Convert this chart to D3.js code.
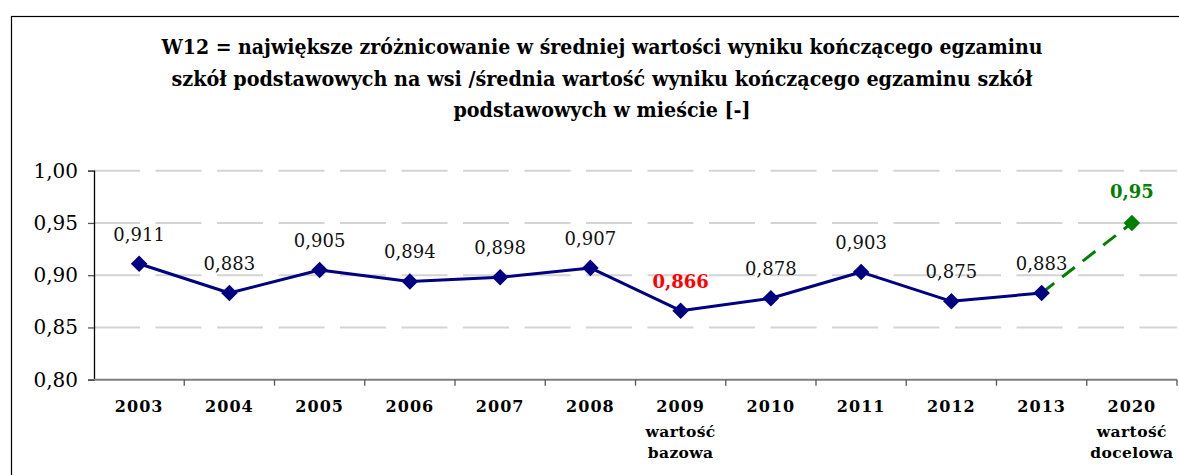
<!DOCTYPE html>
<html>
<head>
<meta charset="utf-8">
<script src="https://cdn.jsdelivr.net/npm/d3@7"></script>
<style>
  body { margin: 0; background: #fff; }
  svg { display: block; }
</style>
</head>
<body>
<svg width="1179" height="475"></svg>
<script>
// data
let years = ["2003", "2004", "2005", "2006", "2007", "2008", "2009", "2010", "2011", "2012", "2013", "2020"];
let subLabels = { "2009": ["wartość", "bazowa"], "2020": ["wartość", "docelowa"] };
let actualYears = ["2003", "2004", "2005", "2006", "2007", "2008", "2009", "2010", "2011", "2012", "2013"];
let actualValues = [0.911, 0.883, 0.905, 0.894, 0.898, 0.907, 0.866, 0.878, 0.903, 0.875, 0.883];
let targetYears = ["2013", "2020"];
let targetValues = [0.883, 0.95];
let yTicks = [0.80, 0.85, 0.90, 0.95, 1.00];
let titleLines = [
  "W12 = największe zróżnicowanie w średniej wartości wyniku kończącego egzaminu",
  "szkół podstawowych na wsi /średnia wartość wyniku kończącego egzaminu szkół",
  "podstawowych w mieście [-]"
];
let baseYear = "2009";

let svg = d3.select("svg"),
    width = +svg.attr("width"),
    height = +svg.attr("height");

let serif = "'DejaVu Serif', 'Liberation Serif', serif";
let fmt = function(d, n) { return d3.format("." + n + "f")(d).replace(".", ","); };

let plotLeft = 94, plotRight = 1177, plotTop = 170.7, plotBottom = 379.7;

let x = d3.scaleBand().domain(years).range([plotLeft, plotRight]);
let y = d3.scaleLinear().domain([0.8, 1.0]).range([plotBottom, plotTop]);
let cx = function(d) { return x(d) + x.bandwidth() / 2; };

// outer frame (only left and top edges are on screen)
svg.append("rect")
    .attr("x", 11.5).attr("y", 16.5)
    .attr("width", 1200).attr("height", 500)
    .attr("fill", "none").attr("stroke", "#000").attr("stroke-width", 1.2);

// title
let titleWidths = [881, 861, 297];
svg.append("g").selectAll("text")
    .data(titleLines)
    .enter().append("text")
    .attr("x", 602)
    .attr("y", function(d, i) { return 54 + i * 31.5; })
    .attr("text-anchor", "middle")
    .attr("textLength", function(d, i) { return titleWidths[i]; })
    .attr("lengthAdjust", "spacingAndGlyphs")
    .style("font-family", "'DejaVu Serif Condensed', 'DejaVu Serif', serif")
    .style("font-weight", "bold")
    .style("font-size", "21px")
    .attr("fill", "#000")
    .text(function(d) { return d; });

// gridlines
svg.append("g")
    .selectAll("line")
    .data(yTicks.filter(function(d) { return d > 0.8; }))
    .enter().append("line")
    .attr("x1", plotLeft).attr("x2", plotRight)
    .attr("y1", function(d) { return y(d); })
    .attr("y2", function(d) { return y(d); })
    .attr("stroke", "#d4d4d4")
    .attr("stroke-width", 2)
    .attr("stroke-dasharray", "46,15.5");

// y axis
let yAxis = svg.append("g")
    .attr("transform", "translate(" + plotLeft + ",0)")
    .call(d3.axisLeft(y).tickValues(yTicks).tickSize(6).tickPadding(10)
      .tickFormat(function(d) { return fmt(d, 2); }));
yAxis.select(".domain").attr("stroke", "#000").attr("stroke-width", 1.3);
yAxis.selectAll(".tick line").attr("stroke", "#555").attr("stroke-width", 1.3);
yAxis.selectAll("text")
    .style("font-family", serif)
    .style("font-size", "20px")
    .attr("fill", "#000");

// x axis line + ticks between categories
svg.append("line")
    .attr("x1", plotLeft).attr("x2", plotRight)
    .attr("y1", plotBottom).attr("y2", plotBottom)
    .attr("stroke", "#7f7f7f").attr("stroke-width", 2);

svg.append("g").selectAll("line")
    .data(years.slice(1).concat(["end"]))
    .enter().append("line")
    .attr("x1", function(d, i) { return i < years.length - 1 ? x(d) : plotRight; })
    .attr("x2", function(d, i) { return i < years.length - 1 ? x(d) : plotRight; })
    .attr("y1", plotBottom).attr("y2", plotBottom + 6)
    .attr("stroke", "#555").attr("stroke-width", 1.3);

// category labels
let catLabels = svg.append("g").selectAll("text")
    .data(years)
    .enter().append("text")
    .attr("x", cx)
    .attr("y", 412)
    .attr("text-anchor", "middle")
    .style("font-family", serif)
    .style("font-weight", "bold")
    .style("font-size", "16px")
    .style("letter-spacing", "1px")
    .attr("fill", "#000");

catLabels.append("tspan")
    .attr("x", cx)
    .text(function(d) { return d; });

catLabels.each(function(d) {
  if (!subLabels[d]) return;
  let t = d3.select(this);
  subLabels[d].forEach(function(s, i) {
    t.append("tspan")
      .attr("x", cx(d))
      .attr("y", 437 + i * 21)
      .style("font-size", "15.5px")
      .style("letter-spacing", "0.4px")
      .text(s);
  });
});

// lines
let line = d3.line()
    .x(function(d) { return cx(d.year); })
    .y(function(d) { return y(d.value); });

let actual = actualYears.map(function(yr, i) { return { year: yr, value: actualValues[i] }; });
let target = targetYears.map(function(yr, i) { return { year: yr, value: targetValues[i] }; });

svg.append("path")
    .datum(target)
    .attr("d", line)
    .attr("fill", "none")
    .attr("stroke", "#008000")
    .attr("stroke-width", 3)
    .attr("stroke-dasharray", "16,10");

svg.append("path")
    .datum(actual)
    .attr("d", line)
    .attr("fill", "none")
    .attr("stroke", "#000080")
    .attr("stroke-width", 3)
    .attr("stroke-linejoin", "round");

// markers
let diamond = d3.symbol().type(d3.symbolDiamond2).size(175);

svg.append("g").selectAll("path")
    .data(actual)
    .enter().append("path")
    .attr("d", diamond)
    .attr("transform", function(d) { return "translate(" + cx(d.year) + "," + y(d.value) + ")"; })
    .attr("fill", "#000080");

svg.append("path")
    .attr("d", diamond)
    .attr("transform", "translate(" + cx(targetYears[1]) + "," + y(targetValues[1]) + ")")
    .attr("fill", "#008000");

// data labels
svg.append("g").selectAll("text")
    .data(actual)
    .enter().append("text")
    .attr("x", function(d) { return cx(d.year); })
    .attr("y", function(d) { return y(d.value) - 23; })
    .attr("text-anchor", "middle")
    .style("font-family", serif)
    .style("font-size", "18px")
    .style("font-weight", function(d) { return d.year === baseYear ? "bold" : "normal"; })
    .attr("fill", function(d) { return d.year === baseYear ? "#ff0000" : "#111"; })
    .text(function(d) { return fmt(d.value, 3); });

svg.append("text")
    .attr("x", cx(targetYears[1]))
    .attr("y", y(targetValues[1]) - 25)
    .attr("text-anchor", "middle")
    .style("font-family", serif)
    .style("font-size", "18px")
    .style("font-weight", "bold")
    .attr("fill", "#008000")
    .text(fmt(targetValues[1], 2));
</script>
</body>
</html>
